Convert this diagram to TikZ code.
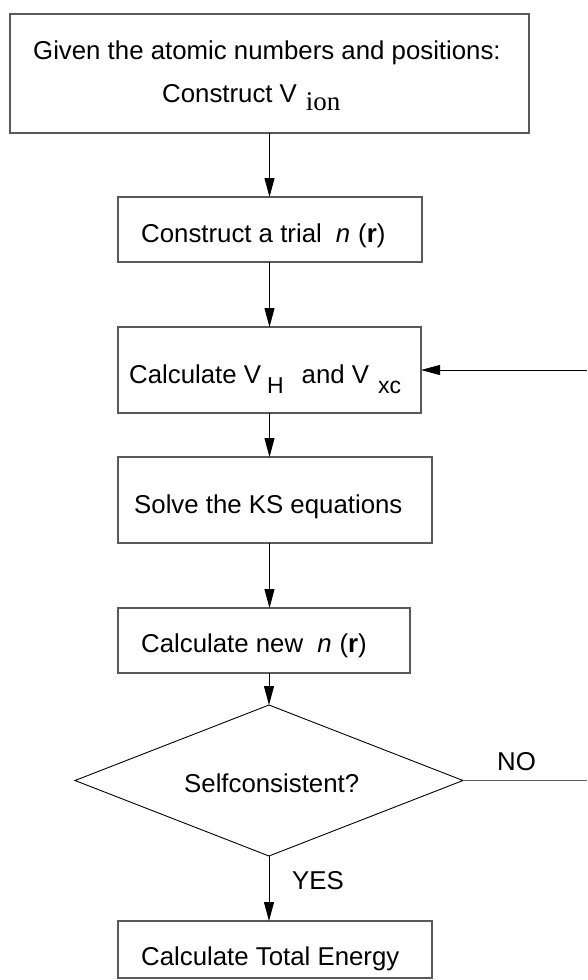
\documentclass[tikz,border=0pt]{standalone}
\usepackage{fontspec}
\setmainfont{Liberation Sans}
\newfontfamily\tnr{Liberation Serif}
\usetikzlibrary{arrows.meta,shapes.geometric}
\tikzset{
  box/.style={draw=black!65,line width=1.3pt,rectangle,inner sep=0pt,outer sep=0pt},
  dia/.style={draw=black,line width=0.9pt,diamond,inner sep=0pt,outer sep=0pt},
  arr/.style={draw=black,line width=0.9pt,-{Triangle[length=19pt,width=10pt]}},
  noline/.style={draw=black!65,line width=1.5pt},
  txt/.style={anchor=base west,inner sep=0pt,font=\fontsize{25.8}{30}\selectfont}
}
\newcommand{\lowsub}[2]{\raisebox{-#1pt}{#2}}
\begin{document}
\begin{tikzpicture}[x=1pt,y=-1pt]
\useasboundingbox (0,0) rectangle (587,980);
% boxes
\node[box,minimum width=519pt,minimum height=119pt] (b1) at (269.5,73.5) {};
\node[box,minimum width=304pt,minimum height=65pt] (b2) at (270,229.5) {};
\node[box,minimum width=303pt,minimum height=86pt] (b3) at (269.5,370) {};
\node[box,minimum width=314pt,minimum height=86pt] (b4) at (275,500) {};
\node[box,minimum width=292pt,minimum height=65pt] (b5) at (264,640.5) {};
\node[dia,minimum width=388pt,minimum height=151pt] (d) at (269,780.5) {};
\node[box,minimum width=314pt,minimum height=57pt] (b6) at (275,949.5) {};
% texts
\node[txt] (t1a) at (33,59.5) {Given the atomic numbers and positions:};
\node[txt] (t1b) at (162,102) {Construct V\hspace{9pt}\lowsub{8}{\tnr\fontsize{27}{27}\selectfont ion}};
\node[txt] (t2) at (141,242) {Construct a trial\hspace{14pt}\textit{n}\hspace{8pt}(\textbf{r})};
\node[txt] (t3) at (129,383) {Calculate V\hspace{6pt}\lowsub{10}{\fontsize{23}{23}\selectfont H}\hspace{18pt}and V\hspace{9pt}\lowsub{10}{\fontsize{23}{23}\selectfont xc}};
\node[txt] (t4) at (134,513) {Solve the KS equations};
\node[txt] (t5) at (141,652) {Calculate new\hspace{14pt}\textit{n}\hspace{8pt}(\textbf{r})};
\node[txt] (t6) at (184,792) {Selfconsistent?};
\node[txt] (t7) at (141,965) {Calculate Total Energy};
\node[txt] (yes) at (292,889) {YES};
\node[txt] (no) at (497,770) {NO};
% connectors
\coordinate (r1) at (587,370);
\coordinate (r2) at (587,780.5);
\draw[arr] (b1.south) -- (b2.north -| b1.south);
\draw[arr] (b2.south -| b1.south) -- (b3.north -| b1.south);
\draw[arr] (b3.south -| b1.south) -- (b4.north -| b1.south);
\draw[arr] (b4.south -| b1.south) -- (b5.north -| b1.south);
\draw[arr] (b5.south -| d.north) -- (d.north);
\draw[arr] (d.south) -- (b6.north -| d.south);
\draw[arr] (r1) -- (b3.east);
\draw[noline] (d.east) -- (r2);
\end{tikzpicture}
\end{document}
